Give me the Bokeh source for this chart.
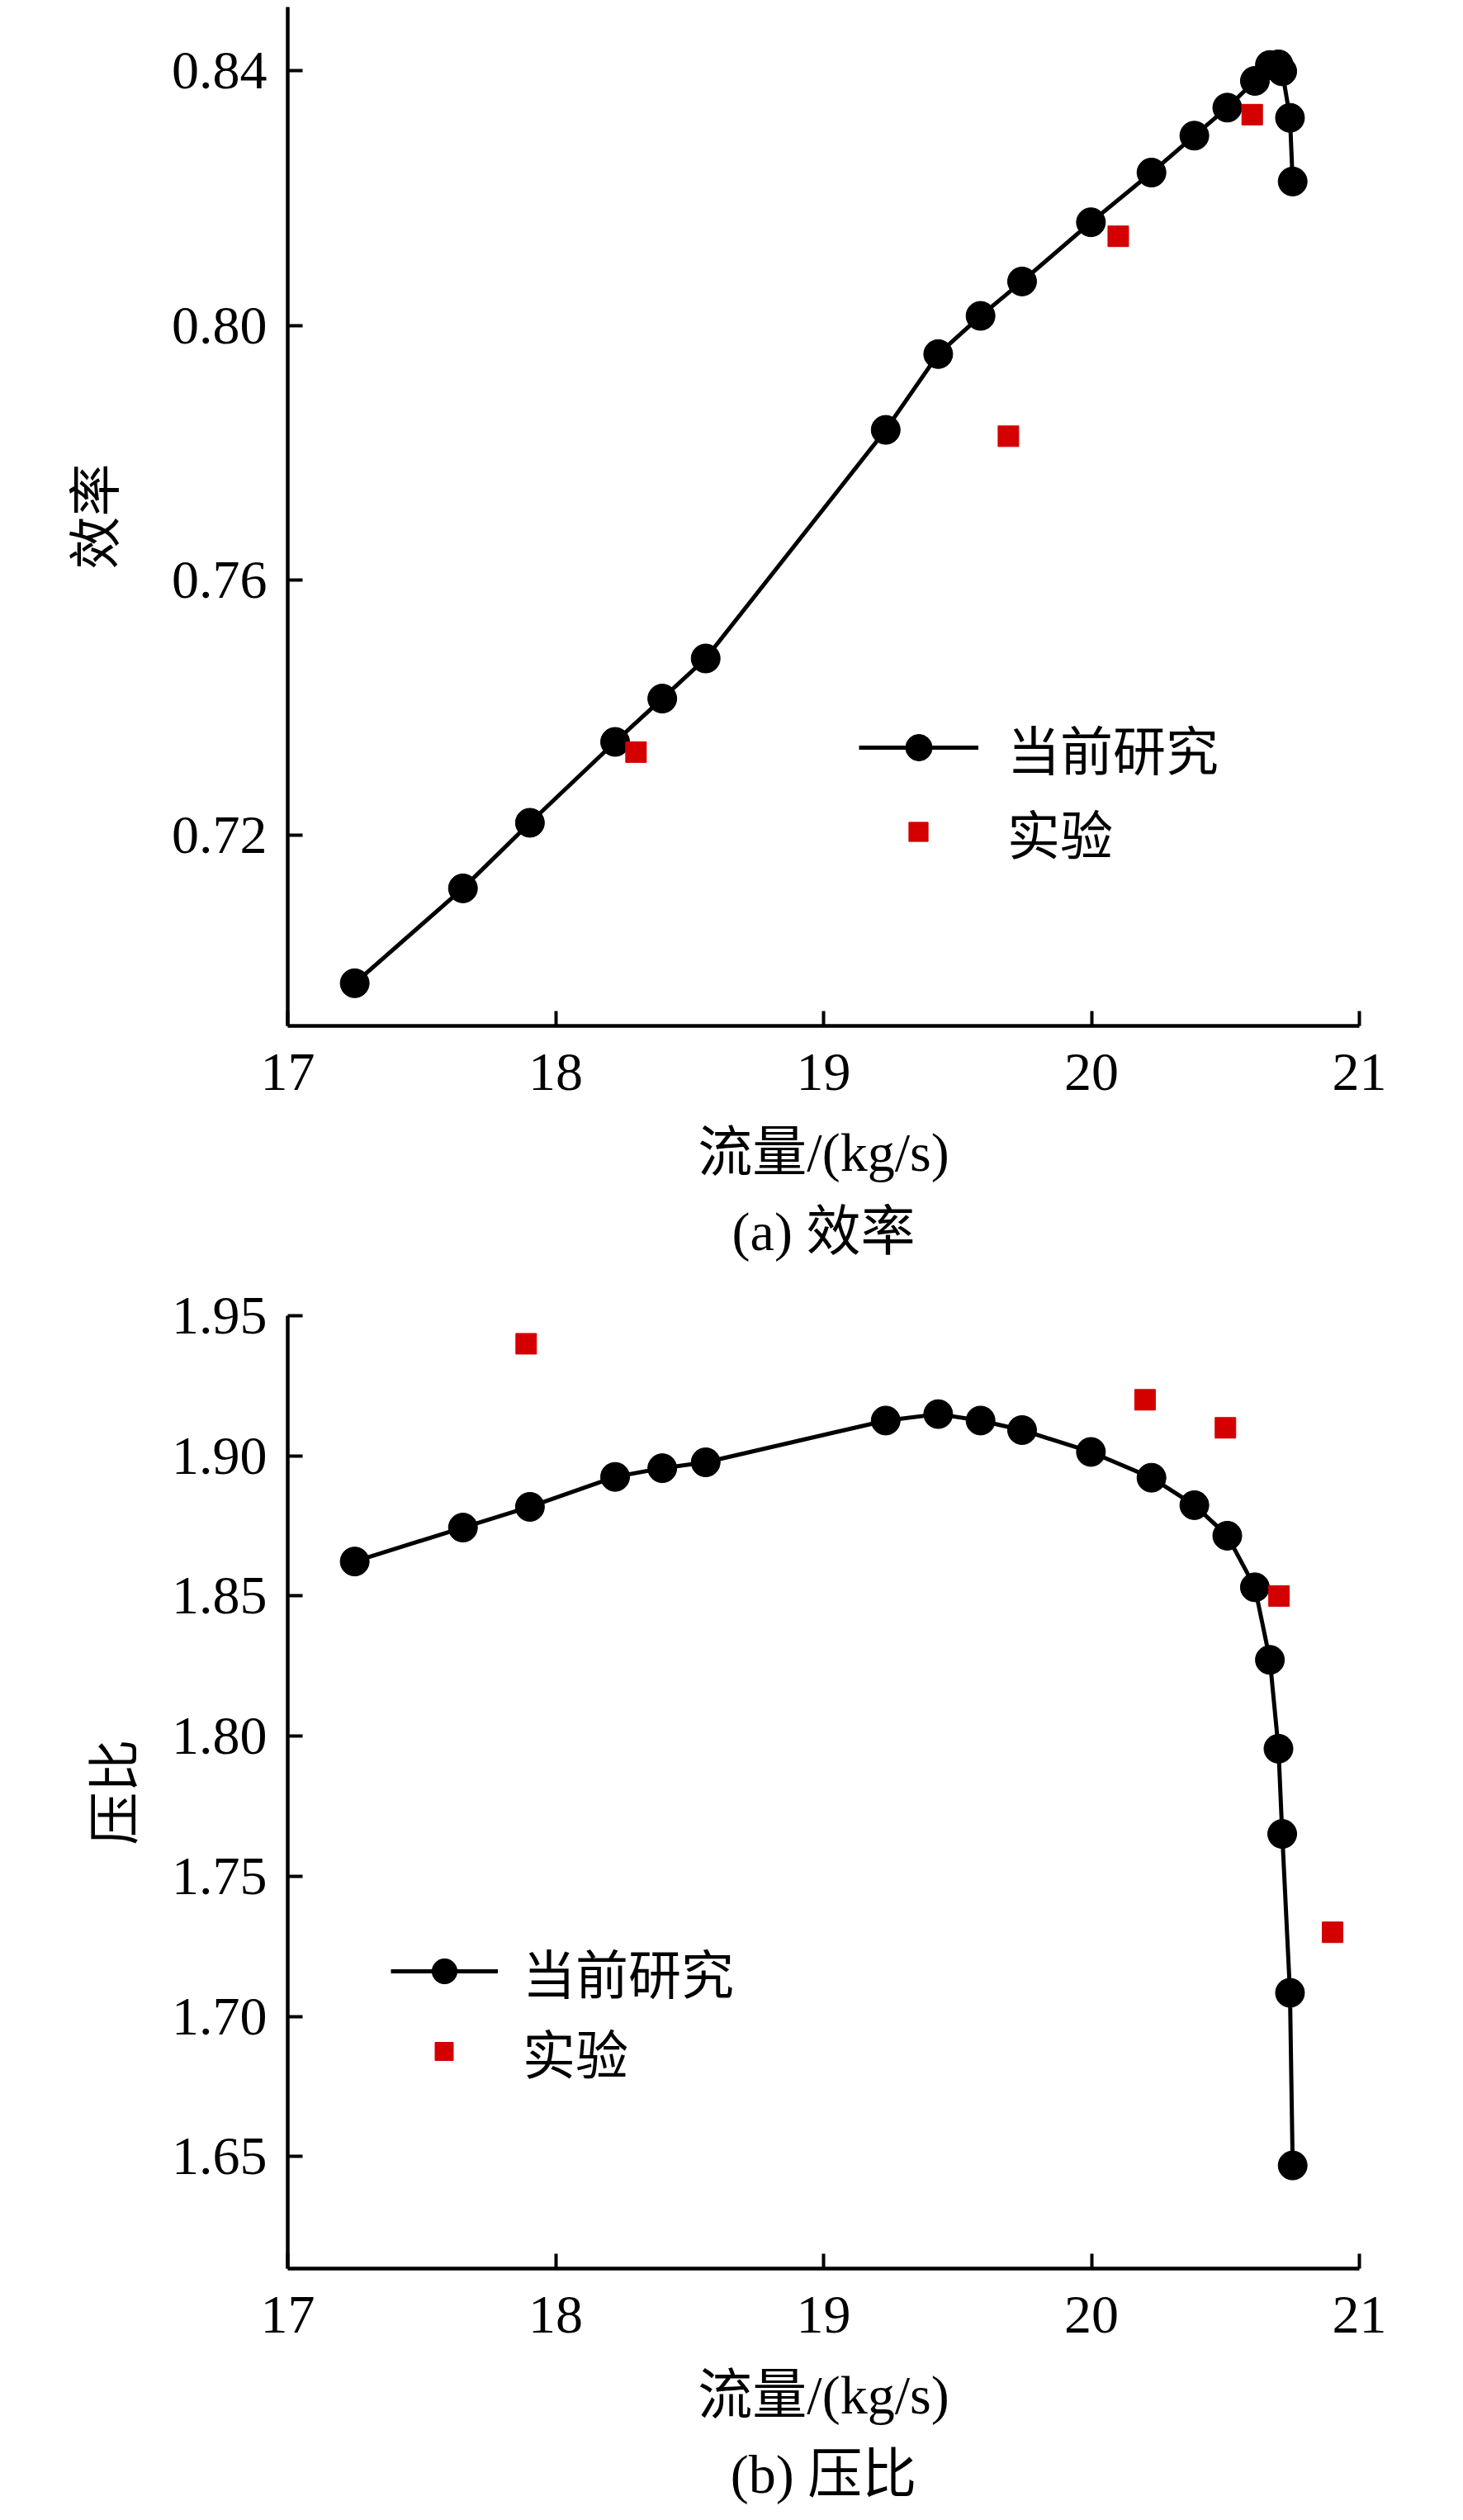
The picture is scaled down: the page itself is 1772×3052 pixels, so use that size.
from bokeh.plotting import figure
from bokeh.models import (ColumnDataSource, Range1d, FixedTicker, NumeralTickFormatter,
                          Legend, LegendItem, Title)
from bokeh.layouts import column
from bokeh.embed import file_html
from bokeh.resources import INLINE

# ---------------- data ----------------
flow = [17.25, 17.654, 17.904, 18.222, 18.398, 18.56, 19.232, 19.428, 19.586, 19.741,
        19.998, 20.224, 20.384, 20.507, 20.61, 20.666, 20.698, 20.712, 20.741, 20.751]
efficiency = [0.6967, 0.7116, 0.7219, 0.7346, 0.7414, 0.7477, 0.7836, 0.7955, 0.8015, 0.8069,
              0.8162, 0.8240, 0.8298, 0.8342, 0.8384, 0.8409, 0.8410, 0.8399, 0.8326, 0.8226]
pressure_ratio = [1.8623, 1.8744, 1.8818, 1.8925, 1.8956, 1.8977, 1.9126, 1.9149, 1.9126, 1.9092,
                  1.9014, 1.8922, 1.8824, 1.8715, 1.8531, 1.8272, 1.7955, 1.7651, 1.7084, 1.6468]

exp_eff_flow = [18.30, 19.69, 20.10, 20.60]
exp_eff = [0.7330, 0.7826, 0.8140, 0.8331]
exp_pr_flow = [17.89, 20.20, 20.50, 20.70, 20.90]
exp_pr = [1.940, 1.920, 1.910, 1.850, 1.730]

x_ticks = [17, 18, 19, 20, 21]
eff_ticks = [0.72, 0.76, 0.80, 0.84]
pr_ticks = [1.65, 1.70, 1.75, 1.80, 1.85, 1.90, 1.95]

label_sim = "当前研究"
label_exp = "实验"
x_title = "流量/(kg/s)"
eff_title = "效率"
pr_title = "压比"
cap_a = "(a) 效率"
cap_b = "(b) 压比"

FONT = "'Liberation Serif', 'Noto Sans CJK SC'"
RED = "#d40000"
W = 1772
FRAME_LEFT = 348
FRAME_RIGHT = 1646


def make_fig(height, top, bottom, yr, yticks, ylab, ylab_standoff, caption,
             y, ex, ey, leg1, leg2):
    p = figure(width=W, height=height, x_range=Range1d(17, 21), y_range=Range1d(*yr),
               output_backend="svg", toolbar_location=None,
               min_border_left=FRAME_LEFT, min_border_right=W - FRAME_RIGHT,
               min_border_top=top, min_border_bottom=bottom,
               outline_line_color=None, background_fill_color="white",
               border_fill_color="white")
    p.grid.visible = False
    for ax in (p.xaxis[0], p.yaxis[0]):
        ax.axis_line_width = 4.5
        ax.axis_line_color = "black"
        ax.major_tick_line_width = 4
        ax.major_tick_line_color = "black"
        ax.major_tick_in = 18
        ax.major_tick_out = 0
        ax.minor_tick_line_color = None
        ax.major_label_text_font = FONT
        ax.major_label_text_font_size = "66px"
        ax.major_label_text_color = "black"
        ax.axis_label_text_font = FONT
        ax.axis_label_text_font_style = "normal"
        ax.axis_label_text_color = "black"
    xa = p.xaxis[0]
    xa.ticker = FixedTicker(ticks=x_ticks)
    xa.formatter = NumeralTickFormatter(format="0")
    xa.major_label_standoff = 34
    xa.axis_label = x_title
    xa.axis_label_text_font_size = "66px"
    xa.axis_label_standoff = 36
    ya = p.yaxis[0]
    ya.ticker = FixedTicker(ticks=yticks)
    ya.formatter = NumeralTickFormatter(format="0.00")
    ya.major_label_standoff = 25
    ya.axis_label = ylab
    ya.axis_label_text_font_size = "64px"
    ya.axis_label_standoff = ylab_standoff

    src = ColumnDataSource(dict(x=flow, y=y))
    esrc = ColumnDataSource(dict(x=ex, y=ey))
    lr = p.line("x", "y", source=src, line_color="black", line_width=5)
    sr = p.scatter("x", "y", source=src, marker="circle", size=35,
                   fill_color="black", line_color="black")
    er = p.scatter("x", "y", source=esrc, marker="square", size=25,
                   fill_color=RED, line_color=RED)

    common = dict(padding=0, margin=0, spacing=0, border_line_color=None,
                  background_fill_alpha=0, label_text_font=FONT,
                  label_text_font_size="64px", label_text_color="black")
    (l1x, l1y, gw1, gh1, st1), (l2x, l2y, gw2, gh2, st2) = leg1, leg2
    L1 = Legend(items=[LegendItem(label=label_sim, renderers=[lr, sr])],
                location=(l1x, l1y), glyph_width=gw1, glyph_height=gh1,
                label_height=gh1, label_standoff=st1, **common)
    L2 = Legend(items=[LegendItem(label=label_exp, renderers=[er])],
                location=(l2x, l2y), glyph_width=gw2, glyph_height=gh2,
                label_height=gh2, label_standoff=st2, **common)
    p.add_layout(L1)
    p.add_layout(L2)
    p.add_layout(Title(text=caption, align="center", text_font=FONT,
                       text_font_size="66px", text_font_style="normal",
                       text_color="black", standoff=36), "below")
    return p


H_A = 1545
pa = make_fig(H_A, 8, H_A - 1244, (0.69, 0.85), eff_ticks, eff_title, 53, cap_a,
              efficiency, exp_eff_flow, exp_eff,
              (692, 291, 145, 80, 35), (735, 189, 58, 80, 79))
H_B = 3052 - H_A
pb = make_fig(H_B, 1593 - H_A, H_B - (2747 - H_A), (1.61, 1.95), pr_ticks, pr_title, 30, cap_b,
              pressure_ratio, exp_pr_flow, exp_pr,
              (125, 314, 130, 76, 30), (162, 217, 55, 76, 68))

layout = column(pa, pb, spacing=0)
open("out.html", "w").write(file_html(layout, INLINE))
